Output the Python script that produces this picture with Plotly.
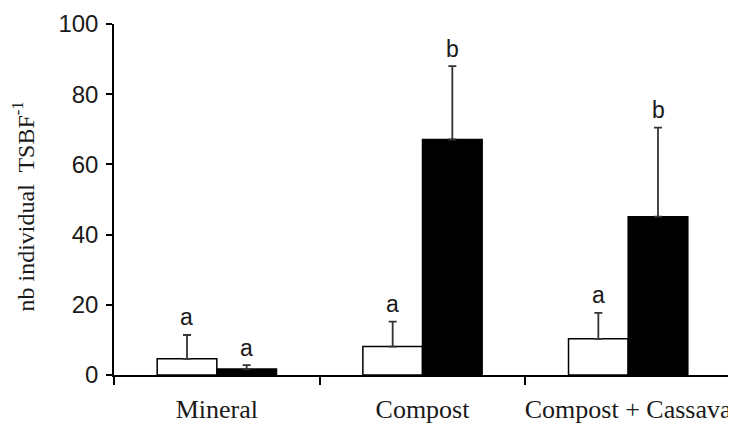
import plotly.graph_objects as go

categories = ["Mineral", "Compost", "Compost + Cassava"]
white_vals = [4.6, 8.1, 10.3]
white_err = [6.8, 7.1, 7.4]
black_vals = [1.7, 67.1, 45.1]
black_err = [1.1, 20.9, 25.4]
white_letters = ["a", "a", "a"]
black_letters = ["a", "b", "b"]
y_ticks = [0, 20, 40, 60, 80, 100]

fig = go.Figure()
fig.add_trace(go.Bar(
    x=categories, y=white_vals, name="white",
    marker=dict(color="white", line=dict(color="black", width=1.5)),
    error_y=dict(type="data", array=white_err, arrayminus=[0]*3, symmetric=False,
                 color="#333333", thickness=1.8, width=4),
))
fig.add_trace(go.Bar(
    x=categories, y=black_vals, name="black",
    marker=dict(color="black", line=dict(color="black", width=1.5)),
    error_y=dict(type="data", array=black_err, arrayminus=[0]*3, symmetric=False,
                 color="#333333", thickness=1.8, width=4),
))

letter_font = dict(family="Liberation Sans, Arial", size=23, color="#1a1a1a")
for i, c in enumerate(categories):
    fig.add_annotation(x=c, y=white_vals[i] + white_err[i] + 5, text=white_letters[i],
                       showarrow=False, xshift=-30, yanchor="middle", font=letter_font)
    fig.add_annotation(x=c, y=black_vals[i] + black_err[i] + 5, text=black_letters[i],
                       showarrow=False, xshift=30, yanchor="middle", font=letter_font)

fig.add_annotation(xref="paper", yref="paper", x=-0.1475, y=0.48,
                   xanchor="center", yanchor="middle",
                   text="nb individual  TSBF<sup>-1</sup>", textangle=-90, showarrow=False,
                   font=dict(family="Liberation Serif, Times New Roman", size=24, color="#1a1a1a"))

fig.update_layout(
    width=728, height=428,
    margin=dict(l=106, r=5, t=16, b=61, autoexpand=False),
    paper_bgcolor="white", plot_bgcolor="white",
    barmode="group", bargap=0.42, bargroupgap=0,
    showlegend=False,
)
fig.update_xaxes(
    type="category", range=[-0.5, 2.5], tickson="boundaries", tickangle=0, automargin=False,
    ticks="outside", ticklen=8, tickwidth=1.5, tickcolor="black", ticklabelstandoff=10,
    showline=True, linecolor="black", linewidth=1.5, showgrid=False,
    tickfont=dict(family="Liberation Serif, Times New Roman", size=26, color="#1a1a1a"),
)
fig.update_yaxes(
    range=[0, 100], tickvals=y_ticks, automargin=False,
    ticks="outside", ticklen=6, tickwidth=1.5, tickcolor="black", ticklabelstandoff=3,
    showline=True, linecolor="black", linewidth=1.5, showgrid=False, zeroline=False,
    tickfont=dict(family="Liberation Sans, Arial", size=24, color="#1a1a1a"),
)

fig.write_html("out.html")
